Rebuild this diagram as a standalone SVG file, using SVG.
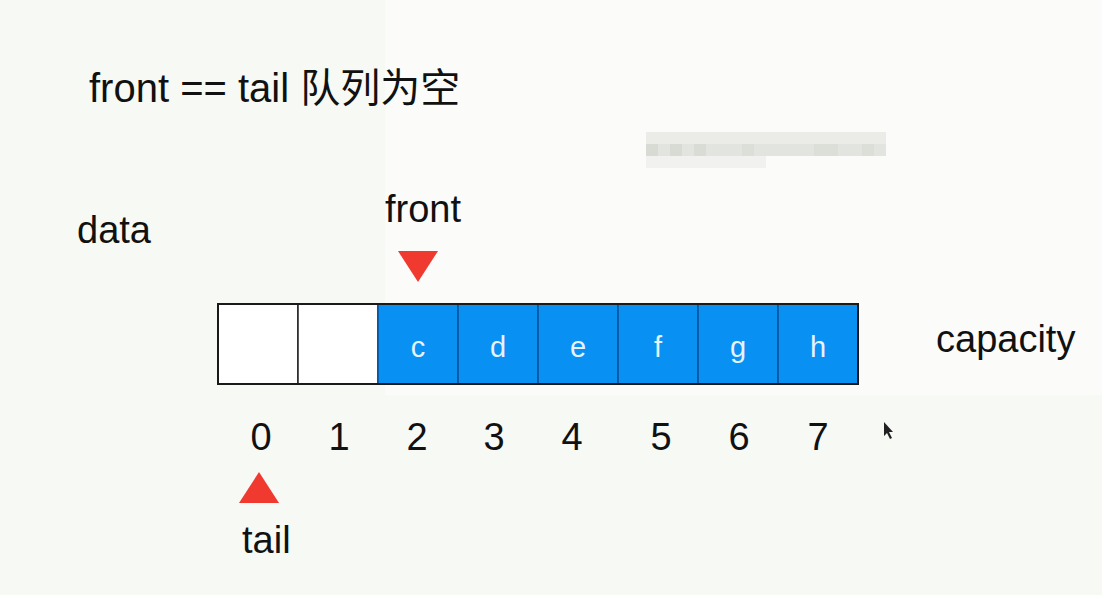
<svg xmlns="http://www.w3.org/2000/svg" width="1102" height="595" viewBox="0 0 1102 595">
<style>
  .t{font-family:"Liberation Sans",Arial,"Noto Sans CJK SC",sans-serif;fill:#111;}
  .lbl{font-size:38px;}
  .num{font-size:38px;text-anchor:middle;}
  .cell{fill:#0890f2;stroke:#0e4f94;stroke-width:1.5;}
  .empty{fill:#ffffff;stroke:#222;stroke-width:1.5;}
  .ct{font-family:"Liberation Sans",Arial,sans-serif;font-size:29px;fill:#e6f3ff;text-anchor:middle;}
  .tri{fill:#f03a30;}
</style>
<rect x="0" y="0" width="1102" height="595" fill="#f7f9f5"/>
<rect x="385" y="0" width="717" height="395" fill="#fbfcfa"/>

<text class="t" x="89" y="102" font-size="40">front == tail 队列为空</text>

<g id="blur">
  <rect x="646" y="132" width="240" height="12" fill="#ebece8"/>
  <rect x="646" y="144" width="240" height="12" fill="#e2e4df"/>
  <rect x="646" y="156" width="120" height="12" fill="#f1f2ef"/>
  <rect x="646" y="144" width="12" height="12" fill="#d8dad4"/>
  <rect x="670" y="144" width="12" height="12" fill="#d8dad4"/>
  <rect x="694" y="144" width="12" height="12" fill="#d9dbd5"/>
  <rect x="742" y="144" width="12" height="12" fill="#dcded8"/>
  <rect x="814" y="144" width="24" height="12" fill="#dcded8"/>
  <rect x="862" y="144" width="12" height="12" fill="#dcded8"/>
</g>

<g id="data-label"><text class="t lbl" x="77" y="243">data</text></g>
<g id="front-label"><text class="t lbl" x="385" y="222">front</text></g>
<g id="front-pointer"><polygon class="tri" points="398,251 438,251 418,282"/></g>
<g id="capacity-label"><text class="t lbl" x="936" y="352" font-size="39">capacity</text></g>

<g id="array">
  <g id="cell0"><rect class="empty" x="218" y="304" width="80" height="80"/></g>
  <g id="cell1"><rect class="empty" x="298" y="304" width="80" height="80"/></g>
  <g id="cell2"><rect class="cell" x="378" y="304" width="80" height="80"/><text class="ct" x="418" y="357">c</text></g>
  <g id="cell3"><rect class="cell" x="458" y="304" width="80" height="80"/><text class="ct" x="498" y="357">d</text></g>
  <g id="cell4"><rect class="cell" x="538" y="304" width="80" height="80"/><text class="ct" x="578" y="357">e</text></g>
  <g id="cell5"><rect class="cell" x="618" y="304" width="80" height="80"/><text class="ct" x="658" y="357">f</text></g>
  <g id="cell6"><rect class="cell" x="698" y="304" width="80" height="80"/><text class="ct" x="738" y="357">g</text></g>
  <g id="cell7"><rect class="cell" x="778" y="304" width="80" height="80"/><text class="ct" x="818" y="357">h</text></g>
  <rect x="218" y="304" width="640" height="80" fill="none" stroke="#1a1a1a" stroke-width="2"/>
</g>

<g id="indices">
  <text class="t num" x="261" y="450">0</text>
  <text class="t num" x="339" y="450">1</text>
  <text class="t num" x="417" y="450">2</text>
  <text class="t num" x="494" y="450">3</text>
  <text class="t num" x="572" y="450">4</text>
  <text class="t num" x="661" y="450">5</text>
  <text class="t num" x="739" y="450">6</text>
  <text class="t num" x="818" y="450">7</text>
</g>

<g id="tail-pointer"><polygon class="tri" points="239,503 279,503 259,472"/></g>
<g id="tail-label"><text class="t lbl" x="242" y="553">tail</text></g>

<g id="cursor"><polygon points="884,422 884,436 887,433 890,439 892,438 889,432 893,432" fill="#222"/></g>

<g id="connectors"></g>
</svg>
